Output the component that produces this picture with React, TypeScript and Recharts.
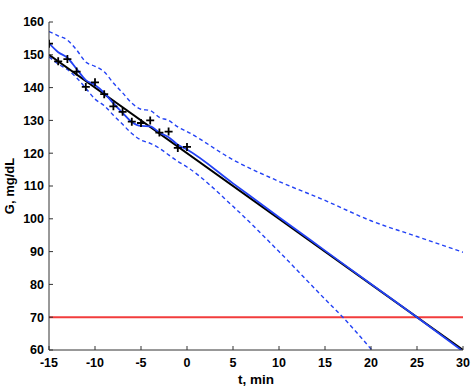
import React from 'react';
import { ComposedChart, Line, Scatter, XAxis, YAxis, ReferenceLine } from 'recharts';

const blue = '#2342f5';
const red = '#f23c3c';
const frame = '#333';
const font = '"Liberation Sans", Arial, Helvetica, sans-serif';

// measured glucose, one sample per minute
const pastT = [-15, -14, -13, -12, -11, -10, -9, -8, -7, -6, -5, -4, -3, -2, -1, 0];
const measuredG = [153.4, 148.0, 148.7, 144.9, 140.2, 141.6, 138.0, 134.3, 132.6, 129.6, 129.2, 130.0, 126.3, 126.6, 121.6, 121.9];

// straight-line fit
const fitT = [-15, 30];
const fitG = [150, 60];

// smoothed estimate and prediction with bounds
const curveT = [-15, -14, -13, -12, -11, -10, -9, -8, -7, -6, -5, -4, -3, -2, -1, 0, 5, 10, 15, 20, 25, 30];
const smoothG = [153.5, 150.8, 149.1, 145.7, 142.3, 140.8, 138.4, 135.2, 132.3, 129.5, 128.3, 128.2, 126.3, 124.9, 122.6, 121.1, 110.8, 100.5, 90.3, 80.1, 70.0, 59.6];
const upperG = [157.1, 155.8, 154.5, 151.5, 147.8, 146.5, 144.8, 141.4, 138.4, 135.3, 133.4, 133.0, 130.9, 130.0, 128.0, 126.6, 118.0, 111.4, 105.6, 99.4, 94.6, 89.8];
const lowerT = [-15, -14, -13, -12, -11, -10, -9, -8, -7, -6, -5, -4, -3, -2, -1, 0, 5, 10, 15, 17, 20, 21];
const lowerG = [149.4, 147.2, 145.5, 143.0, 139.8, 136.5, 134.5, 131.6, 128.8, 126.0, 124.0, 123.0, 121.5, 119.5, 117.5, 115.8, 103.8, 90.0, 75.5, 69.8, 60.3, 57.0];

const hypoLevel = 70;

const xTicks = [-15, -10, -5, 0, 5, 10, 15, 20, 25, 30];
const yTicks = [60, 70, 80, 90, 100, 110, 120, 130, 140, 150, 160];

const zip = (ts: number[], gs: number[]) => ts.map((t, i) => ({ t, G: gs[i] }));

const measured = zip(pastT, measuredG);
const fit = zip(fitT, fitG);
const smooth = zip(curveT, smoothG);
const upper = zip(curveT, upperG);
const lower = zip(lowerT, lowerG);

const tickStyle = { fontFamily: font, fontWeight: 700, fontSize: 12.5, fill: '#000' };

const Plus = (props: any) => {
  const { cx, cy } = props;
  return <path d={`M${cx - 4},${cy}h8M${cx},${cy - 4}v8`} stroke="#000" strokeWidth={1.8} fill="none" />;
};

const App = () => {
  return (
    <div style={{ position: 'absolute', left: 0, top: 0, width: 473, height: 388, background: '#fff' }}>
      <ComposedChart width={473} height={388} margin={{ top: 22, right: 10, bottom: 0, left: 0 }}>
        <XAxis
          dataKey="t"
          type="number"
          domain={[-15, 30]}
          ticks={xTicks}
          height={38}
          tickSize={-4}
          tickMargin={12}
          tick={tickStyle}
          stroke={frame}
          allowDataOverflow
          label={{
            content: (p: any) => (
              <text x={p.viewBox.x + p.viewBox.width / 2} y={384} textAnchor="middle"
                style={{ fontFamily: font, fontWeight: 700, fontSize: 13.5 }} fill="#000">
                t, min
              </text>
            ),
          }}
        />
        <XAxis
          xAxisId="top"
          orientation="top"
          dataKey="t"
          type="number"
          domain={[-15, 30]}
          ticks={xTicks}
          height={0}
          tickSize={-4}
          tickFormatter={() => ''}
          stroke={frame}
          label={{
            content: (p: any) => (
              <text x={p.viewBox.x + p.viewBox.width / 2} y={11} textAnchor="middle"
                style={{ fontFamily: font, fontWeight: 700, fontSize: 11.5 }} fill="#000">
                past and future glucose
              </text>
            ),
          }}
        />
        <YAxis
          type="number"
          domain={[60, 160]}
          ticks={yTicks}
          width={49}
          tickSize={-4}
          tickMargin={9}
          tick={tickStyle}
          stroke={frame}
          allowDataOverflow
          label={{
            content: (p: any) => {
              const cy = p.viewBox.y + p.viewBox.height / 2;
              return (
                <text x={13.5} y={cy} textAnchor="middle" transform={`rotate(-90, 13.5, ${cy})`}
                  style={{ fontFamily: font, fontWeight: 700, fontSize: 13 }} fill="#000">
                  G, mg/dL
                </text>
              );
            },
          }}
        />
        <YAxis
          yAxisId="right"
          orientation="right"
          type="number"
          domain={[60, 160]}
          ticks={yTicks}
          width={0}
          tickSize={-4}
          tickFormatter={() => ''}
          stroke={frame}
        />
        <ReferenceLine y={hypoLevel} stroke={red} strokeWidth={2} />
        <Line data={upper} dataKey="G" type="monotone" stroke={blue} strokeWidth={1.4} strokeDasharray="4 3" dot={false} isAnimationActive={false} />
        <Line data={lower} dataKey="G" type="monotone" stroke={blue} strokeWidth={1.4} strokeDasharray="4 3" dot={false} isAnimationActive={false} />
        <Line data={fit} dataKey="G" type="linear" stroke="#000" strokeWidth={2} dot={false} isAnimationActive={false} />
        <Line data={smooth} dataKey="G" type="monotone" stroke={blue} strokeWidth={1.8} dot={false} isAnimationActive={false} />
        <Scatter data={measured} dataKey="G" shape={<Plus />} isAnimationActive={false} />
      </ComposedChart>
    </div>
  );
};

export default App;
